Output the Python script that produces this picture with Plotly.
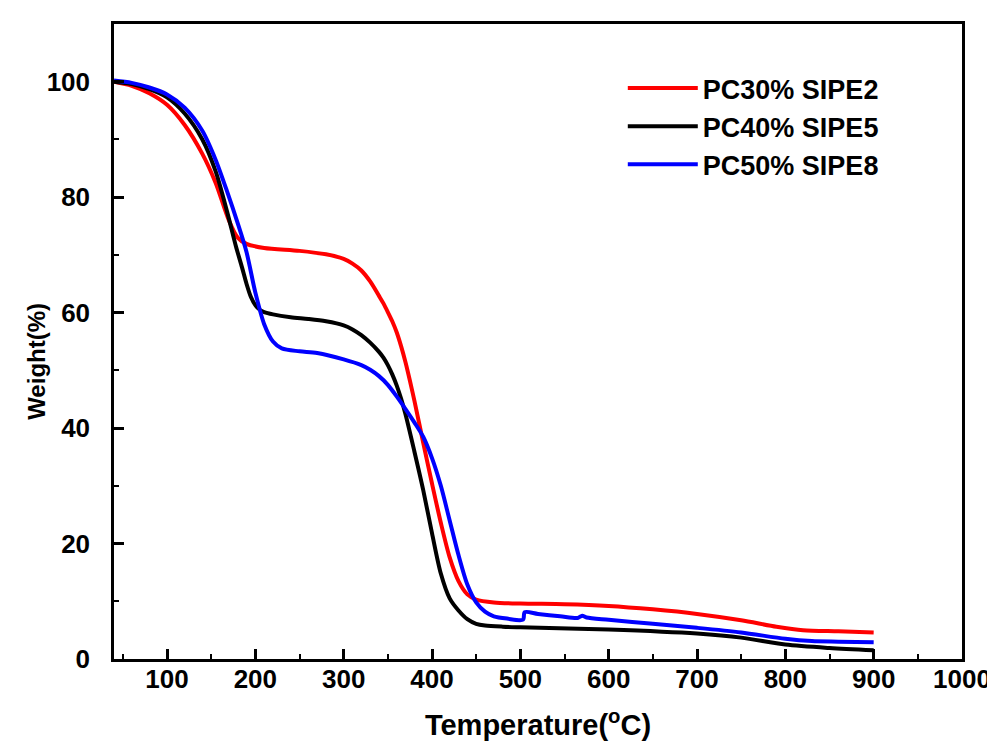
import plotly.graph_objects as go

# ---- data ----
x_red = [40, 60, 80, 100, 120, 140, 155, 170, 180, 190, 210, 250, 280, 300, 310, 320, 330, 340, 345, 350, 355, 360, 365, 370, 375, 380, 390, 400, 410, 420, 430, 440, 450, 470, 500, 550, 600, 650, 700, 750, 790, 820, 860, 900]
y_red = [100, 99.3, 98, 96, 92.5, 87.5, 82.5, 76, 73, 71.9, 71.2, 70.7, 70.1, 69.3, 68.5, 67.3, 65.4, 62.9, 61.6, 60.1, 58.5, 56.6, 54.2, 51.4, 48.2, 44.8, 37.5, 30.4, 23.6, 17.6, 13.5, 11.2, 10.3, 9.8, 9.6, 9.5, 9.2, 8.6, 7.8, 6.7, 5.6, 5.0, 4.8, 4.6]

x_black = [40, 60, 80, 100, 120, 140, 155, 168, 178, 185, 190, 195, 200, 205, 210, 220, 240, 260, 280, 300, 310, 320, 330, 340, 345, 350, 355, 360, 365, 370, 380, 390, 400, 410, 420, 430, 440, 450, 460, 480, 500, 600, 700, 750, 800, 850, 900]
y_black = [100, 99.6, 98.7, 97.3, 94.5, 90, 84.5, 77.5, 71.5, 67.8, 65, 62.7, 61.3, 60.5, 60.1, 59.7, 59.2, 58.9, 58.5, 57.8, 57.1, 56.1, 54.8, 53.2, 52.2, 50.9, 49.3, 47.4, 45.1, 42.4, 36, 29.3, 21.8, 14.8, 10.5, 8.4, 6.9, 6.1, 5.8, 5.6, 5.5, 5.1, 4.4, 3.7, 2.5, 1.9, 1.5]

x_blue = [40, 60, 80, 100, 120, 140, 155, 168, 180, 190, 200, 210, 220, 230, 250, 270, 300, 320, 330, 340, 350, 360, 370, 380, 390, 400, 410, 420, 430, 440, 450, 460, 470, 485, 503, 505, 520, 545, 565, 570, 575, 600, 650, 700, 750, 800, 830, 860, 900]
y_blue = [100.2, 99.8, 99, 97.8, 95.5, 91.5, 86.5, 81, 75.5, 70.5, 63.5, 58, 55, 53.8, 53.3, 53, 51.9, 50.9, 50.1, 49, 47.5, 45.5, 43.3, 41, 38.5, 34.8, 30, 24, 18, 12.9, 9.8, 8.2, 7.4, 7.0, 6.8, 8.1, 7.8, 7.4, 7.1, 7.5, 7.2, 6.8, 6.1, 5.4, 4.6, 3.5, 3.1, 3.0, 2.9]

names = ["PC30% SIPE2", "PC40% SIPE5", "PC50% SIPE8"]
colors = ["#ff0000", "#000000", "#0000ff"]

x_ticks = [100, 200, 300, 400, 500, 600, 700, 800, 900, 1000]
y_ticks = [0, 20, 40, 60, 80, 100]

FONT = "Liberation Sans, Arial, sans-serif"

fig = go.Figure()
for xs, ys, nm, c in zip([x_red, x_black, x_blue], [y_red, y_black, y_blue], names, colors):
    fig.add_trace(go.Scatter(x=xs, y=ys, mode="lines", name=nm,
                             line=dict(color=c, width=4, shape="spline", smoothing=0.8)))

axis_common = dict(
    showgrid=False, zeroline=False, showline=True, linecolor="black", linewidth=2.5,
    mirror=True, ticks="inside", ticklen=10, tickwidth=2.5, tickcolor="black",
    tickfont=dict(family=FONT, size=26, color="black", weight="bold"),
)

fig.update_layout(
    width=995, height=747,
    margin=dict(l=106, r=34, t=16, b=96),
    paper_bgcolor="white", plot_bgcolor="white",
    font=dict(family=FONT, color="black"),
    xaxis=dict(range=[40, 1000], tickvals=x_ticks,
               minor=dict(ticks="inside", ticklen=5, tickwidth=2, tickcolor="black", dtick=50, tick0=0),
               ticklabelstandoff=-5,
               title=dict(text="Temperature(<sup>o</sup>C)", standoff=22,
                          font=dict(family=FONT, size=29, color="black", weight="bold")),
               **axis_common),
    yaxis=dict(range=[0, 110], tickvals=y_ticks,
               minor=dict(ticks="inside", ticklen=5, tickwidth=2, tickcolor="black", dtick=10, tick0=0),
               ticklabelstandoff=16,
               **axis_common),
    annotations=[dict(text="Weight(%)", xref="paper", yref="paper", x=-0.0912, y=0.469,
                      textangle=-90, showarrow=False, xanchor="center", yanchor="middle",
                      font=dict(family=FONT, size=24, color="black", weight="bold"))],
    legend=dict(x=0.6, y=0.937, xanchor="left", yanchor="top", bgcolor="rgba(0,0,0,0)",
                itemwidth=70,
                font=dict(family=FONT, size=27, color="black", weight="bold")),
)

fig.write_html("out.html")
